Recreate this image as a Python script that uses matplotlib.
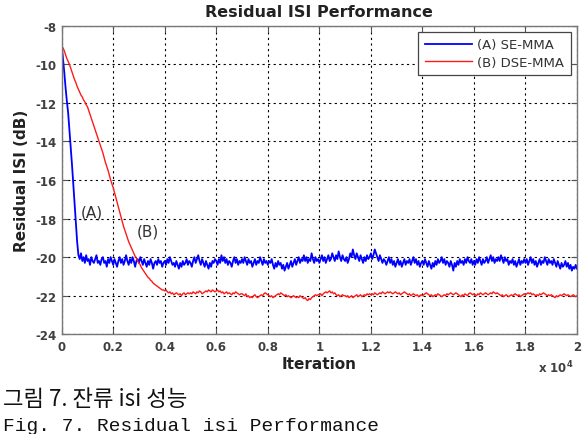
import numpy as np
import matplotlib
matplotlib.use("Agg")
import matplotlib.pyplot as plt

plt.rcParams['font.family'] = ['DejaVu Sans']
plt.rcParams['axes.unicode_minus'] = False

step = 50
iterations = np.arange(0, 20001, step)

# (A) SE-MMA, residual ISI in dB, one value every 50 iterations
se_mma = [
    -9.0, -9.7, -10.4, -11.2, -11.9, -12.5, -13.4, -14.3, -15.2, -16.2, -17.2, -18.2, -19.2, -19.9,
    -20.1, -19.8, -20.2, -20.0, -20.3, -19.9, -20.2, -20.1, -20.4, -20.0, -20.2, -20.3, -20.1, -19.9,
    -20.3, -20.2, -20.4, -20.1, -20.0, -20.3, -20.2, -20.5, -20.1, -20.3, -20.0, -20.2,
    -20.4, -20.1, -20.3, -20.5, -20.2, -20.0, -20.3, -20.1, -20.4, -20.2, -19.9, -20.2, -20.4, -20.1, -20.3, -20.0, -20.2, -20.5, -20.2, -20.1,
    -20.3, -20.0, -20.2, -20.4, -20.1, -20.3, -20.5, -20.2, -20.4, -20.1, -20.3, -20.6, -20.3, -20.2, -20.4, -20.1, -20.3, -20.2, -20.5, -20.3,
    -20.2, -20.4, -20.1, -20.3, -20.0, -20.2, -20.4, -20.3, -20.5, -20.2, -20.4, -20.6, -20.3, -20.5, -20.2, -20.4, -20.3, -20.1, -20.4, -20.2,
    -20.3, -20.5, -20.2, -20.0, -20.3, -20.1, -19.9, -20.2, -20.4, -20.1, -20.3, -20.5, -20.2, -20.4, -20.6, -20.3, -20.5, -20.2, -20.3, -20.1,
    -20.2, -20.4, -20.1, -20.3, -19.9, -20.2, -20.0, -20.3, -20.1, -20.4, -20.2, -20.3, -20.5, -20.2, -20.0, -20.3, -20.1, -20.4, -20.2, -20.3,
    -20.1, -20.3, -20.0, -20.2, -20.4, -20.1, -20.3, -20.2, -20.5, -20.3, -20.1, -20.4, -20.2, -20.3, -20.0, -20.2, -20.4, -20.1, -20.3, -20.2,
    -20.4, -20.2, -20.3, -20.1, -20.4, -20.6, -20.3, -20.5, -20.2, -20.4, -20.3, -20.6, -20.4, -20.7, -20.5, -20.3, -20.6, -20.4, -20.2, -20.5,
    -20.3, -20.1, -20.4, -20.2, -20.0, -20.3, -20.1, -20.2, -19.9, -20.2, -20.0, -20.3, -20.1, -20.2, -19.8, -20.1, -20.3, -20.0, -20.2, -20.1,
    -20.3, -20.1, -19.9, -20.2, -20.0, -20.3, -20.1, -19.9, -20.2, -20.1, -19.8, -20.0, -20.2, -19.9, -20.1, -19.7, -20.0, -20.2, -19.9, -20.1,
    -20.2, -20.0, -20.3, -20.1, -19.8, -20.0, -19.6, -19.9, -20.1, -19.8, -20.0, -20.2, -19.9, -20.1, -20.3, -20.0, -20.2, -19.9, -20.1, -20.0,
    -19.8, -20.1, -19.9, -19.6, -19.8, -20.0, -20.2, -19.9, -20.1, -20.3, -20.1, -20.2, -20.4, -20.2, -20.0, -20.3, -20.1, -20.4, -20.2, -20.5,
    -20.3, -20.1, -20.4, -20.2, -20.5, -20.3, -20.1, -20.4, -20.2, -20.3, -20.1, -20.4, -20.2, -20.0, -20.3, -20.1, -20.4, -20.2, -20.5, -20.3,
    -20.2, -20.4, -20.1, -20.3, -20.5, -20.2, -20.4, -20.6, -20.3, -20.5, -20.2, -20.4, -20.1, -20.3, -20.2, -20.0, -20.3, -20.1, -20.4, -20.2,
    -20.3, -20.5, -20.2, -20.4, -20.7, -20.3, -20.5, -20.2, -20.4, -20.1, -20.3, -20.2, -20.4, -20.1, -20.3, -20.0, -20.2, -20.3, -20.1, -20.4,
    -20.2, -20.4, -20.1, -20.3, -20.0, -20.2, -20.4, -20.1, -20.3, -20.2, -20.0, -20.3, -20.1, -19.9, -20.2, -20.0, -20.3, -20.1, -20.2, -20.0,
    -20.2, -19.9, -20.1, -20.3, -20.0, -20.2, -20.1, -20.4, -20.2, -20.3, -20.1, -20.4, -20.2, -20.5, -20.3, -20.1, -20.4, -20.2, -20.3, -20.1,
    -20.3, -20.1, -20.4, -20.2, -20.0, -20.3, -20.1, -20.4, -20.2, -20.5, -20.3, -20.1, -20.4, -20.2, -20.3, -20.0, -20.2, -20.4, -20.1, -20.3,
    -20.2, -20.4, -20.1, -20.3, -20.5, -20.2, -20.4, -20.6, -20.3, -20.5, -20.4, -20.2, -20.5, -20.3, -20.6, -20.4, -20.7, -20.5, -20.6, -20.4,
    -20.6,
]

# (B) DSE-MMA
dse_mma = [
    -9.05, -9.15, -9.3, -9.5, -9.7, -9.85, -10.0, -10.2, -10.4, -10.6, -10.8, -10.95, -11.15, -11.3, -11.45, -11.6, -11.7, -11.85, -11.95, -12.1,
    -12.2, -12.4, -12.6, -12.8, -13.0, -13.2, -13.4, -13.6, -13.8, -14.0, -14.2, -14.4, -14.6, -14.85, -15.1, -15.3, -15.5, -15.75, -16.0, -16.2,
    -16.4, -16.65, -16.9, -17.15, -17.4, -17.65, -17.9, -18.15, -18.4, -18.6, -18.8, -19.0, -19.2, -19.35, -19.5, -19.65, -19.8, -19.95, -20.05, -20.2,
    -20.3, -20.4, -20.55, -20.65, -20.75, -20.85, -20.95, -21.05, -21.1, -21.2, -21.25, -21.35, -21.4, -21.45, -21.5, -21.55, -21.6, -21.65, -21.7, -21.7,
    -21.75, -21.7, -21.8, -21.85, -21.8, -21.9, -21.85, -21.95, -21.9, -21.85, -21.9, -21.95, -21.9, -22.0, -21.9, -21.85, -21.95, -21.9, -21.85, -21.9,
    -21.85, -21.9, -21.8, -21.85, -21.9, -21.8, -21.85, -21.75, -21.8, -21.9, -21.85, -21.8, -21.75, -21.8, -21.7, -21.75, -21.8, -21.7, -21.75, -21.8,
    -21.75, -21.7, -21.8, -21.75, -21.85, -21.8, -21.9, -21.85, -21.8, -21.9, -21.85, -21.9, -21.95, -21.85, -21.9, -21.8, -21.85, -21.9, -21.95, -21.9,
    -21.9, -21.95, -22.0, -21.9, -22.05, -22.0, -22.1, -22.05, -22.1, -22.0, -21.95, -22.05, -22.1, -22.05, -22.0, -21.95, -22.0, -21.9, -21.85, -21.9,
    -21.95, -22.0, -22.05, -22.0, -22.1, -22.05, -22.0, -21.95, -21.9, -21.95, -21.85, -21.9, -21.95, -22.0, -21.95, -22.05, -22.0, -22.05, -22.1, -22.05,
    -22.0, -22.05, -22.1, -22.05, -22.1, -22.0, -22.05, -22.1, -22.15, -22.1, -22.2, -22.25, -22.15, -22.2, -22.1, -22.05, -22.0, -21.95, -22.0, -21.95,
    -21.95, -21.9, -22.0, -21.9, -21.85, -21.8, -21.85, -21.8, -21.75, -21.85, -21.8, -21.9, -21.85, -21.95, -22.0, -21.95, -22.05, -22.0, -21.95, -22.0,
    -22.0, -22.05, -22.0, -22.1, -22.05, -22.0, -22.1, -22.05, -22.0, -21.95, -22.05, -22.0, -21.95, -22.05, -22.0, -21.95, -22.0, -21.9, -21.95, -21.9,
    -21.95, -21.9, -21.95, -21.85, -21.9, -21.95, -21.9, -21.85, -21.9, -21.8, -21.85, -21.9, -21.85, -21.8, -21.85, -21.8, -21.85, -21.9, -21.85, -21.8,
    -21.85, -21.9, -21.85, -21.95, -21.9, -21.85, -21.8, -21.85, -21.9, -21.95, -21.9, -22.0, -21.95, -21.9, -21.95, -22.0, -21.95, -22.05, -22.0, -21.95,
    -22.0, -21.95, -21.9, -21.85, -21.9, -21.95, -22.0, -21.95, -22.05, -22.0, -21.95, -22.0, -21.9, -21.95, -22.0, -22.05, -22.0, -21.95, -22.0, -21.9,
    -21.95, -21.9, -21.85, -21.9, -21.95, -21.9, -21.85, -21.9, -21.95, -22.0, -22.05, -21.95, -22.0, -21.9, -21.95, -22.0, -21.9, -21.85, -21.9, -21.95,
    -21.9, -21.95, -22.0, -21.9, -21.95, -21.85, -21.9, -21.95, -21.9, -21.85, -21.9, -21.95, -21.9, -21.85, -21.9, -21.8, -21.85, -21.9, -21.85, -21.9,
    -21.95, -22.0, -21.95, -22.05, -22.0, -21.95, -22.0, -22.05, -22.0, -21.95, -22.0, -21.95, -21.9, -21.95, -22.0, -21.95, -22.05, -22.0, -21.95, -21.9,
    -21.95, -21.9, -21.85, -21.9, -21.85, -21.95, -21.9, -21.95, -22.0, -21.95, -22.0, -21.9, -21.95, -21.9, -21.85, -21.9, -21.95, -22.0, -21.95, -22.0,
    -21.95, -22.0, -22.05, -22.1, -22.0, -22.05, -22.0, -21.95, -22.0, -21.95, -21.9, -21.95, -22.0, -21.95, -22.0, -22.05, -22.0, -21.95, -22.0, -22.05,
    -22.0,
]

series_labels = ['(A) SE-MMA', '(B) DSE-MMA']
x_ticks = [0, 2000, 4000, 6000, 8000, 10000, 12000, 14000, 16000, 18000, 20000]
x_tick_labels = ['0', '0.2', '0.4', '0.6', '0.8', '1', '1.2', '1.4', '1.6', '1.8', '2']
y_ticks = [-24, -22, -20, -18, -16, -14, -12, -10, -8]

fig = plt.figure(figsize=(5.83, 4.35), dpi=100)
ax = fig.add_axes([0.1058, 0.2292, 0.8839, 0.7094])

ax.plot(iterations, se_mma, color='#0000ff', lw=1.3, label=series_labels[0])
ax.plot(iterations, dse_mma, color='#ff1a1a', lw=1.0, label=series_labels[1])

ax.set_xlim(0, 20000)
ax.set_ylim(-24, -8)
ax.set_xticks(x_ticks)
ax.set_xticklabels(x_tick_labels)
ax.set_yticks(y_ticks)
ax.tick_params(direction='in', length=4, width=0.8, color='#555555',
               labelsize=8.5, labelcolor='#404040', top=True, right=True, pad=4)
for lab in ax.get_xticklabels() + ax.get_yticklabels():
    lab.set_fontweight('bold')
for s in ax.spines.values():
    s.set_color('#777777')
    s.set_linewidth(1.0)
ax.grid(True, color='black', linestyle=(0, (2, 3)), linewidth=0.8)

ax.set_title('Residual ISI Performance', fontsize=11.5, fontweight='bold',
             color='#222222', pad=7)
ax.set_xlabel('Iteration', fontsize=11, fontweight='bold', color='#222222', labelpad=2)
ax.set_ylabel('Residual ISI (dB)', fontsize=11, fontweight='bold', color='#222222', labelpad=4)
ax.text(0.993, -0.105, r'x 10$^{\mathbf{4}}$', transform=ax.transAxes, ha='right', va='center',
        fontsize=8.5, fontweight='bold', color='#404040')

ax.text(1164, -17.64, '(A)', fontsize=11, color='#333333', ha='center', va='center')
ax.text(3361, -18.63, '(B)', fontsize=11, color='#333333', ha='center', va='center')

leg = ax.legend(loc='upper right', fontsize=9.5, fancybox=False, framealpha=1,
                edgecolor='#444444', borderpad=0.5, handlelength=3.6,
                handletextpad=0.4, labelspacing=0.35, borderaxespad=0.45)
leg.get_frame().set_linewidth(0.9)
for t in leg.get_texts():
    t.set_color('#333333')

fig.text(0.005, 1 - 400 / 435, '그림 7. 잔류 isi 성능', fontsize=16,
         family=['Noto Sans CJK KR', 'DejaVu Sans'], ha='left', va='center', color='#111111')
fig.text(0.005, 1 - 431 / 435, 'Fig. 7. Residual isi Performance', fontsize=14,
         family=['Liberation Mono', 'DejaVu Sans Mono'], ha='left', va='baseline', color='#111111')

fig.savefig('out.png', dpi=100)
